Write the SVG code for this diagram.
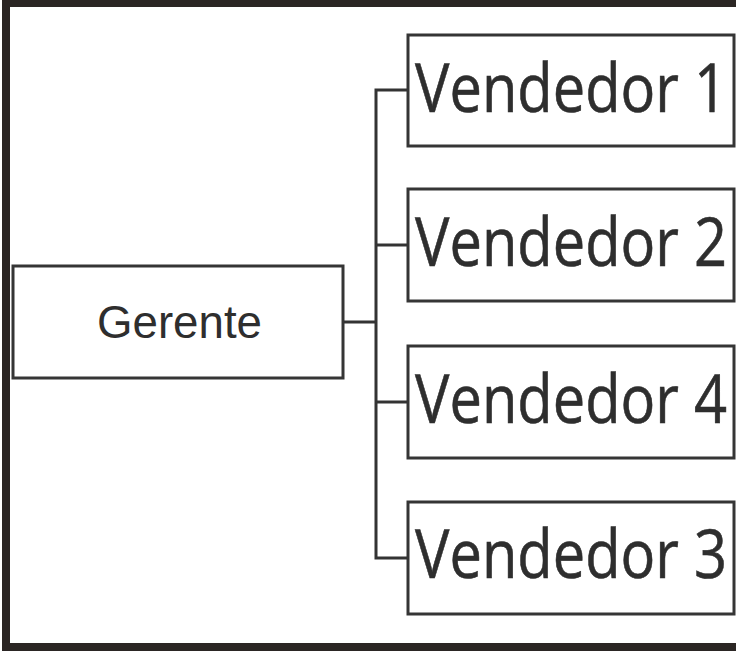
<svg xmlns="http://www.w3.org/2000/svg" width="736" height="651" viewBox="0 0 736 651">
  <style>
    .frame { fill: #ffffff; stroke: #2b2624; stroke-width: 8; }
    .box { fill: #ffffff; stroke: #353535; stroke-width: 3; }
    .link { fill: none; stroke: #333333; stroke-width: 3; }
    .big { font-family: "Open Sans", "Noto Sans", "DejaVu Sans", sans-serif; font-size: 67px; fill: #2e2e2e; stroke: #2e2e2e; stroke-width: 0.6; }
    .small { font-family: "Liberation Sans", Arial, sans-serif; font-size: 46px; fill: #2e2e2e; }
  </style>

  <!-- outer frame -->
  <rect class="frame" x="6" y="3" width="740" height="644"/>

  <!-- org chart connectors -->
  <g id="connectors">
    <path class="link" d="M343,322 H376"/>
    <path class="link" d="M408,90 H376 V558 H408"/>
    <path class="link" d="M376,245 H408"/>
    <path class="link" d="M376,402 H408"/>
  </g>

  <g id="gerente">
    <rect class="box" x="13" y="266" width="330" height="112"/>
    <text class="small" x="97" y="338" textLength="165" lengthAdjust="spacingAndGlyphs">Gerente</text>
  </g>

  <g id="vendedor1">
    <rect class="box" x="408" y="35" width="326" height="111"/>
    <text class="big" x="415" y="112" textLength="312" lengthAdjust="spacingAndGlyphs">Vendedor 1</text>
  </g>

  <g id="vendedor2">
    <rect class="box" x="408" y="189" width="326" height="112"/>
    <text class="big" x="415" y="266" textLength="312" lengthAdjust="spacingAndGlyphs">Vendedor 2</text>
  </g>

  <g id="vendedor4">
    <rect class="box" x="408" y="346" width="326" height="112"/>
    <text class="big" x="415" y="423" textLength="312" lengthAdjust="spacingAndGlyphs">Vendedor 4</text>
  </g>

  <g id="vendedor3">
    <rect class="box" x="408" y="502" width="326" height="112"/>
    <text class="big" x="415" y="578" textLength="312" lengthAdjust="spacingAndGlyphs">Vendedor 3</text>
  </g>
</svg>
